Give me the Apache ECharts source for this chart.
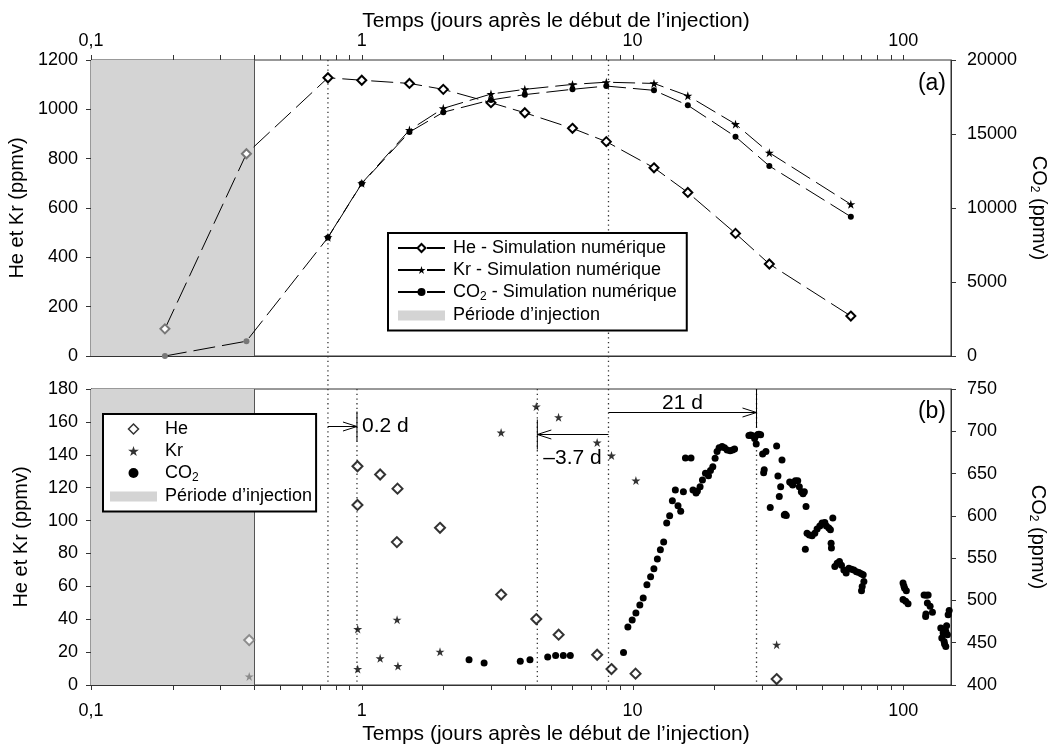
<!DOCTYPE html>
<html><head><meta charset="utf-8">
<script src="https://cdn.jsdelivr.net/npm/echarts@6/dist/echarts.min.js"></script>
<style>html,body{margin:0;padding:0;background:#fff}#c{width:1057px;height:755px}</style>
</head><body><div id="c"></div>
<script>
// ---------- data ----------
// (a) numerical simulation
const simTime = [0.1875, 0.375, 0.75, 1, 1.5, 2, 3, 4, 6, 8, 12, 16, 24, 32, 64];
const heSim  = [110, 820, 1128, 1118, 1105, 1081, 1027, 986, 923, 869, 763, 663, 497, 373, 162];
const krSim  = [null, null, 481, 700, 916, 1004, 1062, 1081, 1101, 1110, 1105, 1055, 940, 824, 615];
const co2Sim = [0, 1000, 8000, 11650, 15130, 16470, 17300, 17660, 18020, 18240, 17950, 16940, 14820, 12840, 9410];

// (b) measurements
const heTime = [0.384, 0.964, 0.964, 1.169, 1.355, 1.348, 1.945, 3.272, 4.41, 5.333, 7.40, 8.36, 10.26, 34.05];
const heMeas = [27.3, 133, 109.5, 128, 119.4, 86.9, 95.6, 55, 40.1, 30.6, 18.4, 9.7, 6.9, 3.6];
const krTime = [0.384, 0.966, 0.966, 1.169, 1.35, 1.36, 1.945, 3.27, 4.41, 5.33, 7.40, 8.36, 10.29, 34.05];
const krMeas = [5.2, 34, 9.7, 16.2, 39.7, 11.5, 20.2, 153.5, 169.3, 162.8, 147.4, 139.5, 124.3, 24.5];
const co2Time = [2.49, 2.83, 3.85, 4.18, 4.86, 5.20, 5.55, 5.89,
  9.26, 9.61, 9.97, 10.29, 10.64, 10.95, 11.30, 11.66, 11.99, 12.35, 12.67, 13.03, 13.37, 13.71, 14.03, 14.39,
  14.72, 15.06, 15.41, 15.68, 16.44, 16.72, 17.16, 17.36, 17.76, 18.12, 18.59, 19.07, 19.40, 19.79, 20.18, 20.52,
  20.88, 21.42, 21.86, 22.36, 22.93, 23.41, 23.81,
  26.90, 27.30, 27.59, 28.23, 28.62, 28.87, 29.30, 29.72, 30.23, 31.09, 30.64, 30.49, 32.25,
  34.05, 35.64, 34.43, 35.24, 34.83, 36.34, 36.97, 36.60,
  38.05, 38.60, 39.04, 39.92, 40.74, 41.30, 42.01, 42.63, 43.10, 43.72,
  43.46, 44.10, 44.98, 46.03, 47.10, 48.03, 49.15, 50.12, 51.29, 51.99, 53.07, 53.80, 54.91, 54.12, 54.26,
  55.85, 56.96, 58.09, 59.09, 60.31, 61.50, 62.93, 64.34, 65.67, 67.14, 68.53, 69.89, 71.10, 71.51, 70.49, 70.08,
  99.75, 101.1, 102.6, 99.75, 102.0, 104.1, 100.5,
  119.3, 121.5, 123.5, 122.7, 125.6, 128.1, 120.9, 121.2,
  137.5, 140.3, 143.5, 138.7, 141.5, 143.5, 145.5, 146.4, 147.7, 142.0, 144.5];
const co2Meas = [430, 426, 428, 430, 433, 435, 435, 435,
  438.5, 468.5, 477, 485, 494.5, 503, 518.5, 528, 537.5, 549, 560, 569, 591.5, 600, 618, 630.5,
  612, 605.5, 628.5, 668.5, 668.5, 630.5, 627, 629.5, 634.5, 642.5, 650.5, 647.5, 653.5, 658, 668, 676,
  680.5, 682, 680.5, 678, 677, 678, 679,
  695, 695.5, 695, 691.5, 685, 695.5, 696.5, 696, 673, 676, 654.5, 651, 610,
  682.5, 666, 647, 634.5, 623, 601, 600.5, 602,
  640, 638.5, 636.5, 641.5, 641.5, 634.5, 628.5, 626, 628.5, 611,
  560.5, 579.5, 577.5, 576.5, 579.5, 584.5, 588, 591.5, 592, 588, 585.5, 583.5, 597.5, 567.5, 562,
  540, 544, 546, 541.5, 536, 532.5, 538, 537, 536, 534, 533, 531.5, 530.5, 522.5, 516.5, 511.5,
  520.5, 514.5, 511.5, 501, 499, 496, 517,
  506.5, 506, 506.5, 497, 493, 486, 481, 484,
  467.5, 461.5, 463.5, 455.5, 451.5, 445.5, 459.5, 483, 488, 448.5, 470];

// axis ticks and reference marks
const xTicks = [0.1, 0.2, 0.3, 0.4, 0.5, 0.6, 0.7, 0.8, 0.9, 1, 2, 3, 4, 5, 6, 7, 8, 9,
  10, 20, 30, 40, 50, 60, 70, 80, 90, 100];
const injectionEnd = 0.4;
const refLinesBoth = [0.75, 8.15];
const refLinesLower = [0.96, 4.45, 28.7];
const annoStart = [0.75, 8.15, 8.15];
const annoEnd = [0.96, 4.45, 28.7];
const annoLevel = [157.5, 152.7, 166.2];
const annoText = ['0.2 d', '\u20133.7 d', '21 d'];

// ---------- chart ----------
const FF = '"Liberation Sans", Arial, Helvetica, sans-serif';
const INJ = 'P\u00e9riode d\u2019injection';
const STAR = 'path://M50,0 L61.8,35.4 L100,35.4 L69.1,57.3 L80.9,92.7 L50,70.8 L19.1,92.7 L30.9,57.3 L0,35.4 L38.2,35.4 Z';
const DIAMOND = 'path://M5,0 L10,5 L5,10 L0,5 Z';
const subRich = {sub: {fontSize: 12, fontFamily: FF, color: '#000', padding: [9, 0, 0, 0]}};

function logLabel(v) {
  const l = Math.log10(v), p = Math.round(l);
  if (Math.abs(l - p) > 1e-6) return '';
  return p < 0 ? '0,1' : String(Math.pow(10, p));
}
function pairs(xs, ys) { return xs.map((x, i) => [x, ys[i]]); }

function injItem(params, api) {
  const cs = params.coordSys;
  const xe = Math.round(api.coord([api.value(0), api.value(1)])[0]) + 0.5;
  return {type: 'group', children: [
    {type: 'rect', shape: {x: cs.x, y: cs.y, width: xe - cs.x, height: cs.height}, style: {fill: '#d4d4d4'}},
    {type: 'line', shape: {x1: xe, y1: cs.y, x2: xe, y2: cs.y + cs.height}, style: {stroke: '#555', lineWidth: 1}}
  ]};
}
function tickItem(top) {
  return function (params, api) {
    const cs = params.coordSys;
    const x = Math.round(api.coord([api.value(0), api.value(1)])[0]) + 0.5;
    const y0 = top ? cs.y : cs.y + cs.height;
    const y1 = top ? y0 - 5 : y0 + 5;
    return {type: 'line', shape: {x1: x, y1: y0, x2: x, y2: y1}, style: {stroke: '#333', lineWidth: 1}};
  };
}
function vlineItem(params, api) {
  const cs = params.coordSys;
  const x = api.coord([api.value(0), api.value(1)])[0];
  return {type: 'line', shape: {x1: x, y1: cs.y, x2: x, y2: cs.y + cs.height},
    style: {stroke: '#333', lineWidth: 1.3, lineDash: [1.3, 3.4]}};
}
function annoItem(params, api) {
  const cs = params.coordSys;
  const i = api.value(3);
  const p1 = api.coord([api.value(0), api.value(1)]);
  const p2 = api.coord([api.value(2), api.value(1)]);
  const d = p2[0] > p1[0] ? 1 : -1;
  const y = Math.round(p2[1]) + 0.5;
  const st = {stroke: '#000', lineWidth: 1, fill: null};
  const barTop = i === 2 ? cs.y : y - 15;
  let tx, ty, al, va;
  if (i === 0) { tx = p2[0] + 5; ty = y; al = 'left'; va = 'middle'; }
  else if (i === 1) { tx = p2[0] + 6; ty = y + 24; al = 'left'; va = 'middle'; }
  else { tx = (p1[0] + p2[0]) / 2; ty = y + 1; al = 'center'; va = 'bottom'; }
  return {type: 'group', children: [
    {type: 'line', shape: {x1: p1[0], y1: y, x2: p2[0], y2: y}, style: st},
    {type: 'polyline', shape: {points: [[p2[0] - d * 14, y - 4.5], [p2[0], y], [p2[0] - d * 14, y + 4.5]]}, style: st},
    {type: 'line', shape: {x1: p2[0], y1: barTop, x2: p2[0], y2: y + 15}, style: st},
    {type: 'text', x: tx, y: ty, style: {text: annoText[i], fontSize: 21, fontFamily: FF, fill: '#000', align: al, verticalAlign: va}}
  ]};
}

const axisLineStyle = {show: true, lineStyle: {color: '#333', width: 1}};
const nameStyle = {fontSize: 20, color: '#000', fontFamily: FF, rich: subRich};
function yAx(grid, pos, min, max, interval, name, gap, rot) {
  return {gridIndex: grid, type: 'value', position: pos, min: min, max: max, interval: interval,
    name: name, nameLocation: 'middle', nameGap: gap, nameRotate: rot, nameTextStyle: nameStyle,
    axisLine: axisLineStyle, axisTick: {show: true, length: 5, lineStyle: {color: '#333'}},
    splitLine: {show: false},
    axisLabel: {fontSize: 18, color: '#000', fontFamily: FF, margin: pos === 'left' ? 13 : 16, formatter: v => String(v)}};
}
function xAx(grid, pos, margin) {
  return {gridIndex: grid, type: 'log', logBase: 10, min: 0.1, max: 150, position: pos,
    axisLine: axisLineStyle, axisTick: {show: false}, minorTick: {show: false}, splitLine: {show: false},
    axisLabel: {formatter: logLabel, fontSize: 18, color: '#000', fontFamily: FF, margin: margin}};
}
const legendCommon = {orient: 'vertical', itemWidth: 47, itemHeight: 10, itemGap: 4,
  backgroundColor: '#fff', borderColor: '#000', borderWidth: 2, selectedMode: false, symbolKeepAspect: true,
  textStyle: {fontSize: 18, fontFamily: FF, color: '#000', padding: [0, 0, 0, 3], rich: subRich},
  formatter: n => n.replace('CO2', 'CO{sub|2}'), z: 10};

const option = {
  backgroundColor: '#fff',
  animation: false,
  grid: [
    {left: 91, right: 106, top: 60, height: 296, show: true, borderColor: '#333', borderWidth: 1, outerBoundsMode: 'none', containLabel: false},
    {left: 91, right: 106, top: 389, height: 296, show: true, borderColor: '#333', borderWidth: 1, outerBoundsMode: 'none', containLabel: false},
    {left: 91, right: 106, top: 60, height: 625, show: false, outerBoundsMode: 'none', containLabel: false}
  ],
  xAxis: [xAx(0, 'top', 10), xAx(1, 'bottom', 17),
    {gridIndex: 2, type: 'log', min: 0.1, max: 150, show: false}],
  yAxis: [
    yAx(0, 'left', 0, 1200, 200, 'He et Kr (ppmv)', 60, null),
    yAx(0, 'right', 0, 20000, 5000, 'CO{sub|2} (ppmv)', 76, -90),
    yAx(1, 'left', 0, 180, 20, 'He et Kr (ppmv)', 60, null),
    yAx(1, 'right', 400, 750, 50, 'CO{sub|2} (ppmv)', 76, -90),
    {gridIndex: 2, type: 'value', min: 0, max: 1, show: false}
  ],
  legend: [
    Object.assign({left: 388, top: 233, padding: [6, 10, 6, 9],
      data: ['He - Simulation num\u00e9rique', 'Kr - Simulation num\u00e9rique', 'CO2 - Simulation num\u00e9rique', {name: INJ, icon: 'rect'}]}, legendCommon),
    Object.assign({left: 103, top: 414, padding: [6, 4, 6, 7],
      data: [{name: 'He', icon: DIAMOND, itemStyle: {color: '#fff', borderColor: '#000', borderWidth: 1.5}},
        'Kr', 'CO2', {name: INJ, icon: 'rect'}]}, legendCommon)
  ],
  visualMap: {type: 'piecewise', show: false, dimension: 0, seriesIndex: [7, 8, 9, 10, 11],
    pieces: [{gte: 0.01, lt: 0.4, color: '#777'}, {gte: 0.4, lte: 1000, color: '#000'}]},
  graphic: [
    {type: 'text', x: 556, y: 21, style: {text: 'Temps (jours apr\u00e8s le d\u00e9but de l\u2019injection)', fontSize: 21, fontFamily: FF, fill: '#000', align: 'center', verticalAlign: 'middle'}},
    {type: 'text', x: 556, y: 734, style: {text: 'Temps (jours apr\u00e8s le d\u00e9but de l\u2019injection)', fontSize: 21, fontFamily: FF, fill: '#000', align: 'center', verticalAlign: 'middle'}},
    {type: 'text', x: 946, y: 84, style: {text: '(a)', fontSize: 23, fontFamily: FF, fill: '#000', align: 'right', verticalAlign: 'middle'}},
    {type: 'text', x: 946, y: 412, style: {text: '(b)', fontSize: 23, fontFamily: FF, fill: '#000', align: 'right', verticalAlign: 'middle'}}
  ],
  series: [
    {type: 'custom', name: INJ, xAxisIndex: 0, yAxisIndex: 0, data: [[injectionEnd, 0]], renderItem: injItem, itemStyle: {color: '#d4d4d4'}, z: 1, silent: true},
    {type: 'custom', name: INJ, xAxisIndex: 1, yAxisIndex: 2, data: [[injectionEnd, 0]], renderItem: injItem, itemStyle: {color: '#d4d4d4'}, z: 1, silent: true},
    {type: 'custom', xAxisIndex: 0, yAxisIndex: 0, data: xTicks.map(v => [v, 0]), renderItem: tickItem(true), z: 1, silent: true},
    {type: 'custom', xAxisIndex: 1, yAxisIndex: 2, data: xTicks.map(v => [v, 0]), renderItem: tickItem(false), z: 1, silent: true},
    {type: 'custom', xAxisIndex: 2, yAxisIndex: 4, data: refLinesBoth.map(v => [v, 0]), renderItem: vlineItem, z: 2, silent: true},
    {type: 'custom', xAxisIndex: 1, yAxisIndex: 2, data: refLinesLower.map(v => [v, 0]), renderItem: vlineItem, z: 2, silent: true},
    {type: 'custom', xAxisIndex: 1, yAxisIndex: 2, data: annoStart.map((s, i) => [s, annoLevel[i], annoEnd[i], i]), renderItem: annoItem, z: 3, silent: true},
    {type: 'line', name: 'He - Simulation num\u00e9rique', xAxisIndex: 0, yAxisIndex: 0, data: pairs(simTime, heSim),
      symbol: 'emptyDiamond', symbolSize: 9, itemStyle: {color: '#000', borderWidth: 1}, lineStyle: {color: '#000', width: 1, type: [22, 7]}, z: 4},
    {type: 'line', name: 'Kr - Simulation num\u00e9rique', xAxisIndex: 0, yAxisIndex: 0, data: pairs(simTime, krSim),
      symbol: STAR, symbolSize: 9, itemStyle: {color: '#000'}, lineStyle: {color: '#000', width: 1, type: [22, 7]}, z: 4},
    {type: 'line', name: 'CO2 - Simulation num\u00e9rique', xAxisIndex: 0, yAxisIndex: 1, data: pairs(simTime, co2Sim),
      symbol: 'circle', symbolSize: 6, itemStyle: {color: '#000'}, lineStyle: {color: '#000', width: 1, type: [22, 7]}, z: 4},
    {type: 'scatter', name: 'He', xAxisIndex: 1, yAxisIndex: 2, data: pairs(heTime, heMeas),
      symbol: 'emptyDiamond', symbolSize: 10, itemStyle: {color: '#222', borderWidth: 1}, z: 4},
    {type: 'scatter', name: 'Kr', xAxisIndex: 1, yAxisIndex: 2, data: pairs(krTime, krMeas),
      symbol: STAR, symbolSize: 9, itemStyle: {color: '#000'}, z: 4},
    {type: 'scatter', name: 'CO2', xAxisIndex: 1, yAxisIndex: 3, data: pairs(co2Time, co2Meas),
      symbol: 'circle', symbolSize: 7, itemStyle: {color: '#000', opacity: 1}, z: 4}
  ]
};
const chart = echarts.init(document.getElementById('c'), null, {renderer: 'canvas'});
chart.setOption(option);
</script></body></html>
